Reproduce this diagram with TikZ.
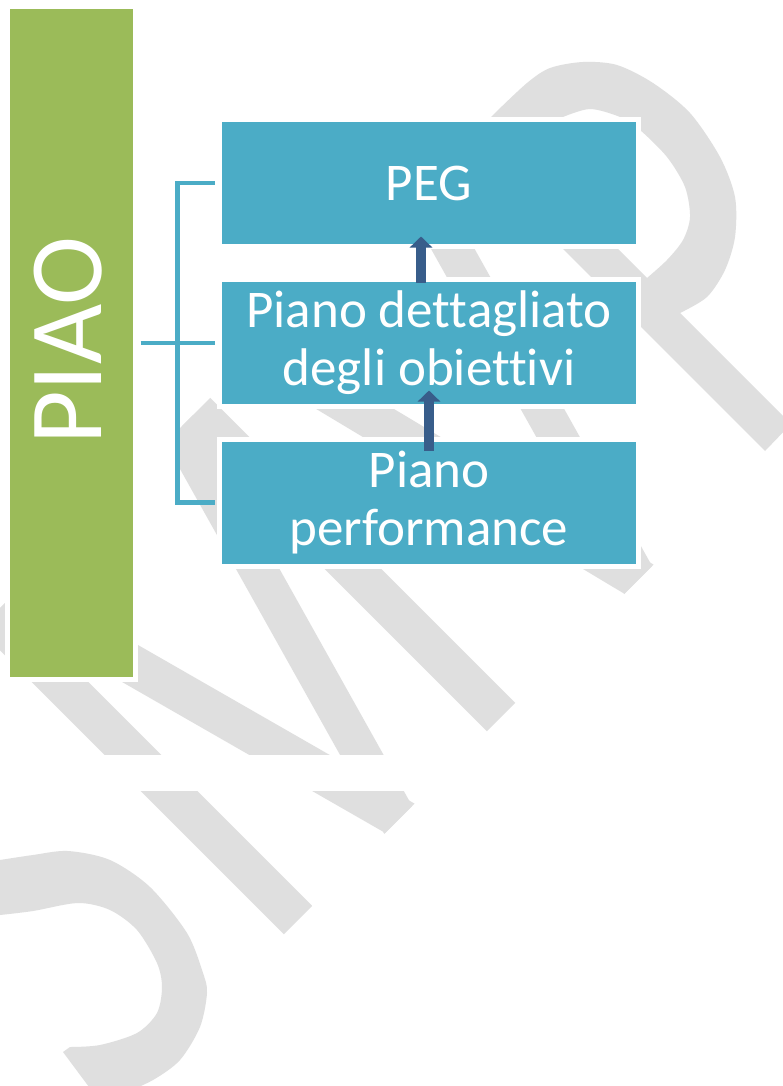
\documentclass[tikz,border=0pt]{standalone}
\usepackage{fontspec}
\setmainfont{Carlito}[Ligatures=NoCommon]
\usetikzlibrary{arrows.meta}
\definecolor{wm}{HTML}{DFDFDF}
\definecolor{piaogreen}{HTML}{9BBB59}
\definecolor{boxblue}{HTML}{4BACC6}
\definecolor{arrowblue}{HTML}{385D8A}
\begin{document}
\begin{tikzpicture}[x=1pt,y=-1pt,
  wmline/.style={draw=wm, line width=40pt, line cap=butt},
  wmthin/.style={draw=wm, line width=38pt, line cap=butt},
  bluebox/.style={draw=white, line width=5pt, fill=boxblue, minimum width=419pt,
    minimum height=127pt, inner sep=0pt, text=white, align=center,
    font=\fontsize{53}{58}\selectfont},
  greenbox/.style={draw=white, line width=5pt, fill=piaogreen, minimum width=128pt,
    minimum height=672.5pt, inner sep=0pt},
  conn/.style={draw=boxblue, line width=4.5pt, shorten <=2.5pt, shorten >=2.5pt},
  uparrow/.style={draw=arrowblue, line width=10pt, -{Triangle[width=22pt,length=11pt]}}]
\fill[white] (0,0) rectangle (782,1086);
\useasboundingbox (0,0) rectangle (782,1086);
% ---- watermark: S
\fill[wm] (-30,863) -- plot[smooth] coordinates {(0,860) (33,855) (68,851) (110,860) (150,887) (187,933) (203,973) (207,993) (200,1027) (180,1060) (153,1080) (120,1095)}
  -- (95,1095) -- (63,1052)
  -- plot[smooth] coordinates {(70,1047) (100,1045) (137,1033) (157,1013) (162,987) (157,963) (137,930) (110,910) (78,903) (33,911) (0,915)}
  -- (-30,920) -- cycle;
% ---- watermark: P
\fill[wm, even odd rule] (461,147) -- plot[smooth] coordinates {(495,113) (527,83) (550,68) (583,62) (617,65) (653,83) (690,113) (720,157) (735,197) (735,237) (725,270) (707,297) (680,313)}
  -- (791,424) -- (765,451) -- cycle
  (525,155) -- plot[smooth] coordinates {(563,117) (590,109) (620,117) (640,130) (667,157) (685,187) (690,217) (683,240) (667,260) (647,278)} -- cycle;
% ---- watermark: M and V
\begin{scope}
  \clip (-100,708) -- (708,-100) -- (1318,-100) -- (-100,1318) -- cycle;
  \draw[wmline] (-40,582) -- (330,952);
  \draw[wmline] (-26,574) -- (450,847);
  \draw[wmthin] (424,866) -- (157,389);
  \draw[wmline] (172,388) -- (522,738);
  \draw[wmline] (210,322) -- (687,608);
  \draw[wmthin] (665,628) -- (398,151);
\end{scope}
\fill[white] (-5,755) rectangle (787,791);
\fill[white] (137,380) rectangle (176,470);
% ---- diagram
\node[greenbox] (piao) at (71.5,342.75) {};
\node[rotate=90, anchor=base, text=white, inner sep=0pt,
  font=\fontsize{104}{110}\selectfont] (piaolabel) at (101,341) {PIAO};
\node[bluebox] (peg) at (429,183) {PEG};
\node[bluebox] (mid) at (429,343) {Piano dettagliato\\degli obiettivi};
\node[bluebox] (bot) at (429,502.5) {Piano\\performance};
\coordinate (spine) at (177.5,343);
\draw[conn] (piao.east |- mid.west) -- (mid.west);
\draw[conn] (peg.west) -- (peg.west -| spine) -- (bot.west -| spine) -- (bot.west);
\draw[uparrow] ([xshift=-8pt,yshift=-5.5pt]mid.north) -- ([xshift=-8pt,yshift=12.5pt]peg.south);
\draw[uparrow] ([yshift=-14.5pt]bot.north) -- ([yshift=18.5pt]mid.south);
\end{tikzpicture}
\end{document}
